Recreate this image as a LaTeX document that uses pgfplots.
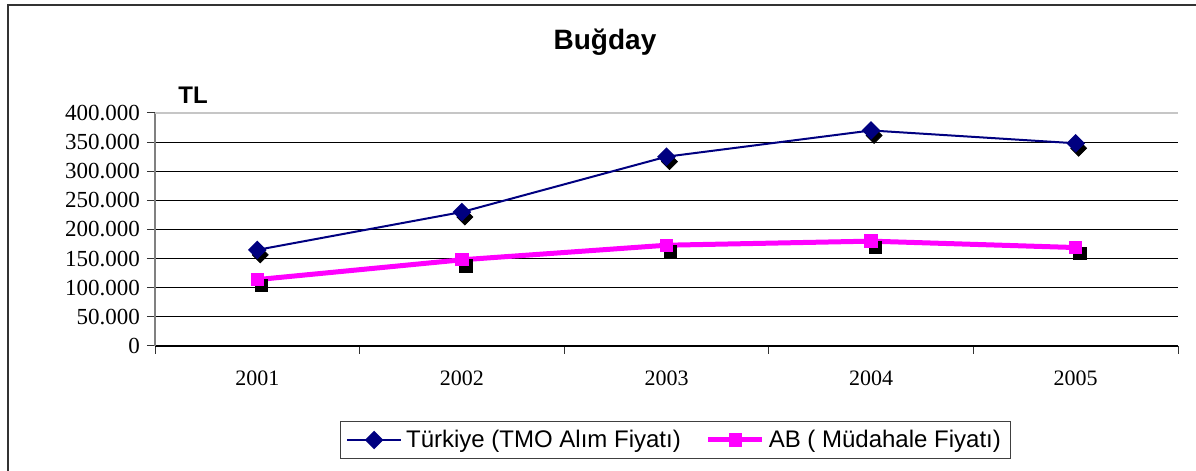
\documentclass[border=0pt]{standalone}
\usepackage{pgfplots}
\usepackage{pgfplotstable}
\pgfplotsset{compat=1.18}
\usepackage{fontspec}
\setmainfont{Liberation Serif}
\newfontfamily\arial{Liberation Sans}
\definecolor{navyc}{HTML}{000080}
\definecolor{magc}{HTML}{FF00FF}

\pgfplotstableread{
x   tr      ab
1   165000  114000
2   230000  148000
3   325000  173000
4   370000  180000
5   348000  169000
}\datatable

\begin{document}
\begin{tikzpicture}[x=1pt,y=1pt]
\useasboundingbox (0,0) rectangle (598,235.5);
\draw[line width=1pt, black!80] (4,0) -- (4,233) -- (598,233);
\node[font=\arial\bfseries\fontsize{14}{16}\selectfont] at (302.5,214.5) {Buğday};
\node[font=\arial\bfseries\fontsize{12}{14}\selectfont] at (96.5,188) {TL};
\begin{axis}[
  at={(77.5pt,62.5pt)}, anchor=south west,
  scale only axis, width=511.5pt, height=116.5pt,
  xmin=0.5, xmax=5.5, ymin=0, ymax=400000,
  separate axis lines,
  axis x line*=bottom, axis y line*=left,
  x axis line style={black, line width=0.6pt, -},
  y axis line style={gray, line width=0.6pt, -},
  tick align=outside, major tick length=4pt,
  tick style={black!80, line width=0.5pt},
  xtick={0.5,1.5,...,5.5}, xticklabels={},
  extra x ticks={1,2,3,4,5},
  extra x tick labels={2001,2002,2003,2004,2005},
  extra x tick style={major tick length=0pt, xticklabel style={yshift=-9pt}},
  ytick={0,50000,...,350000},
  yticklabels={0,50.000,100.000,150.000,200.000,250.000,300.000,350.000},
  extra y ticks={400000}, extra y tick labels={400.000},
  extra y tick style={grid style={gray!45, line width=0.6pt}},
  scaled y ticks=false,
  ymajorgrids, grid style={black, line width=0.5pt},
  ticklabel style={font=\fontsize{11.5}{13}\selectfont},
  xticklabel style={font=\fontsize{11}{13}\selectfont},
  legend columns=2,
  legend style={at={(0.5088,-0.4034)}, anchor=center, draw=black!75, line width=0.5pt,
    font=\arial\fontsize{12}{14}\selectfont, inner xsep=3pt, inner ysep=2pt,
    /tikz/every even column/.append style={column sep=10.5pt}},
  legend image code/.code={\draw[mark repeat=2,mark phase=2] plot coordinates {(0pt,0pt) (13.5pt,0pt) (27pt,0pt)};},
  clip=false,
]
% shadows
\addplot[forget plot, only marks, mark=square*, mark size=2.8pt, black,
  mark options={xshift=1.5pt, yshift=-2.5pt, rotate=45}] table[x=x, y=tr] {\datatable};
\addplot[forget plot, only marks, mark=square*, mark size=3.1pt, black,
  mark options={xshift=2pt, yshift=-3pt}] table[x=x, y=ab] {\datatable};
% series
\addplot[navyc, line width=1pt, mark=square*, mark size=2.8pt,
  mark options={rotate=45, fill=navyc, draw=navyc}] table[x=x, y=tr] {\datatable};
\addlegendentry{Türkiye (TMO Alım Fiyatı)}
\addplot[magc, line width=2.5pt, mark=square*, mark size=3.1pt,
  mark options={fill=magc, draw=magc, line width=0.5pt}] table[x=x, y=ab] {\datatable};
\addlegendentry{AB ( Müdahale Fiyatı)}
\end{axis}
\end{tikzpicture}
\end{document}
